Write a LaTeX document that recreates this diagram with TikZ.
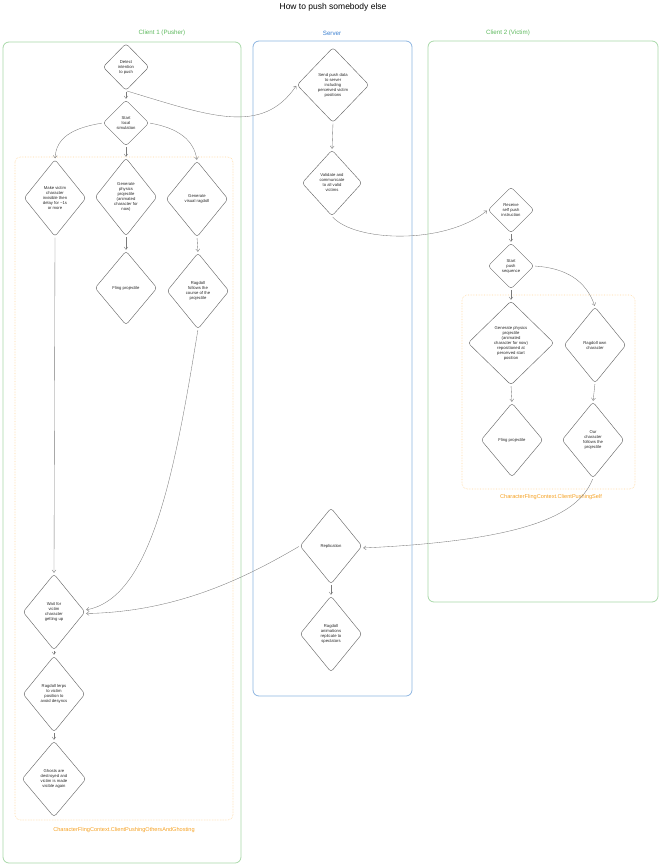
\documentclass[tikz,border=0pt]{standalone}
\usepackage{fontspec}
\setmainfont{Liberation Sans}
\usetikzlibrary{shapes.geometric,arrows.meta}
\definecolor{grnline}{HTML}{A8D8A8}
\definecolor{grntext}{HTML}{5CB85C}
\definecolor{blueline}{HTML}{8CB4E0}
\definecolor{bluetext}{HTML}{3A7FD0}
\definecolor{orgline}{HTML}{FFD8A0}
\definecolor{orgtext}{HTML}{F5A020}
\definecolor{inkline}{HTML}{6A6A6A}
\definecolor{arrline}{HTML}{7A7A7A}
\begin{document}
\begin{tikzpicture}[x=1pt,y=-1pt,
  dia/.style 2 args={diamond, draw=inkline, line width=0.45pt, rounded corners=3pt,
     minimum width=#1, minimum height=#2, inner sep=0pt},
  txt/.style={font=\fontsize{4.2}{5}\selectfont, align=center, text=black!85, inner sep=0pt},
  arr/.style={draw=arrline, line width=0.35pt, shorten >=1pt, shorten <=1pt,
     -{Straight Barb[length=2.6pt,width=4pt,line width=0.35pt]}},
  lane/.style={draw=#1, line width=0.8pt, rounded corners=6pt},
  zone/.style={draw=orgline, line width=0.6pt, densely dotted, rounded corners=5pt},
  lanelabel/.style={font=\fontsize{6.2}{7}\selectfont, text=#1, inner sep=0pt},
  zonelabel/.style={font=\fontsize{5.6}{6.5}\selectfont, text=orgtext, inner sep=0pt}
]
\useasboundingbox (0,0) rectangle (660,866);

% title
\node[font=\fontsize{8.5}{9.5}\selectfont, inner sep=0pt] (title) at (333,7) {How to push somebody else};

% lanes
\draw[lane=grnline] (3,42) rectangle (241,863);
\draw[lane=blueline] (253,41) rectangle (412,696);
\draw[lane=grnline] (428,41) rectangle (658,602);
\node[lanelabel=grntext] (l1) at (162,33) {Client 1 (Pusher)};
\node[lanelabel=bluetext] (l2) at (332,33) {Server};
\node[lanelabel=grntext] (l3) at (508,33) {Client 2 (Victim)};

% zones
\draw[zone] (15,157) rectangle (233,820);
\draw[zone] (462,295) rectangle (635,489);
\node[zonelabel] (z1) at (124,830) {CharacterFlingContext.ClientPushingOthersAndGhosting};
\node[zonelabel] (z2) at (551,497) {CharacterFlingContext.ClientPushingSelf};

% client 1
\node[dia={46pt}{47pt}, label={[txt]center:Detect\\intention\\to push}] (det) at (126,67) {};
\node[dia={46pt}{46pt}, label={[txt]center:Start\\local\\simulation}] (sls) at (126,123) {};
\node[dia={62pt}{77pt}, label={[txt]center:Make victim\\character\\invisible then\\delay for \textasciitilde 1s\\or more}] (mv) at (55,198) {};
\node[dia={62pt}{78pt}, label={[txt]center:Generate\\physics\\projectile\\(animated\\character for\\now)}] (gp) at (126,197) {};
\node[dia={62pt}{76pt}, label={[txt]center:Generate\\visual ragdoll}] (gvr) at (197,199) {};
\node[dia={62pt}{74pt}, label={[txt]center:Fling projectile}] (fl1) at (126,288) {};
\node[dia={62pt}{76pt}, label={[txt]center:Ragdoll\\follows the\\course of the\\projectile}] (rf) at (198,291) {};
\node[dia={62pt}{76pt}, label={[txt]center:Wait for\\victim\\character\\getting up}] (wait) at (54,612) {};
\node[dia={62pt}{76pt}, label={[txt]center:Ragdoll lerps\\to victim\\position to\\avoid desyncs}] (lerp) at (54,694) {};
\node[dia={64pt}{76pt}, label={[txt]center:Ghosts are\\destroyed and\\victim is made\\visible again}] (gh) at (54,779) {};

% server
\node[dia={72pt}{75pt}, label={[txt]center:Send push data\\to server\\including\\perceived victim\\positions}] (send) at (333,85) {};
\node[dia={60pt}{66pt}, label={[txt]center:Validate and\\communicate\\to all valid\\victims}] (val) at (332,183) {};
\node[dia={62pt}{76pt}, label={[txt]center:Replication}] (repl) at (331,546) {};
\node[dia={62pt}{76pt}, label={[txt]center:Ragdoll\\animations\\replicate to\\spectators}] (ra) at (331,634) {};

% client 2
\node[dia={46pt}{46pt}, label={[txt]center:Receive\\self push\\instruction}] (recv) at (511,210) {};
\node[dia={46pt}{46pt}, label={[txt]center:Start\\push\\sequence}] (sps) at (511,266) {};
\node[dia={86pt}{84pt}, label={[txt]center:Generate physics\\projectile\\(animated\\character for now)\\repositioned at\\perceived start\\position}] (gp2) at (511,343) {};
\node[dia={62pt}{76pt}, label={[txt]center:Ragdoll own\\character}] (ro) at (595,345) {};
\node[dia={62pt}{74pt}, label={[txt]center:Fling projectile}] (fl2) at (512,440) {};
\node[dia={62pt}{76pt}, label={[txt]center:Our\\character\\follows the\\projectile}] (oc) at (593,440) {};

% connectors client 1
\draw[arr] (det.south) -- (sls.north);
\draw[arr] (det.south) .. controls (210,116) and (262,136) .. (send.west);
\draw[arr] (sls.west) .. controls (72,128) and (56,138) .. (mv.north);
\draw[arr] (sls.south) -- (gp.north);
\draw[arr] (sls.east) .. controls (178,128) and (194,140) .. (gvr.north);
\draw[arr] (gp.south) -- (fl1.north);
\draw[arr] (gvr.south) -- (rf.north);
\draw[arr] (mv.south) -- (wait.north);
\draw[arr] (rf.south) .. controls (175,470) and (152,598) .. ([yshift=2pt]wait.east);
\draw[arr] (repl.west) .. controls (250,575) and (180,612) .. ([yshift=-1.5pt]wait.east);
\draw[arr] (wait.south) -- (lerp.north);
\draw[arr] (lerp.south) -- (gh.north);

% connectors server
\draw[arr] (send.south) -- (val.north);
\draw[arr] (val.south) .. controls (355,242) and (445,245) .. (recv.west);
\draw[arr] (repl.south) -- (ra.north);

% connectors client 2
\draw[arr] (recv.south) -- (sps.north);
\draw[arr] (sps.south) -- (gp2.north);
\draw[arr] (sps.east) .. controls (565,268) and (586,280) .. (ro.north);
\draw[arr] (gp2.south) -- (fl2.north);
\draw[arr] (ro.south) -- (oc.north);
\draw[arr] (oc.south) .. controls (580,510) and (540,540) .. ([yshift=-2pt]repl.east);
\end{tikzpicture}
\end{document}
